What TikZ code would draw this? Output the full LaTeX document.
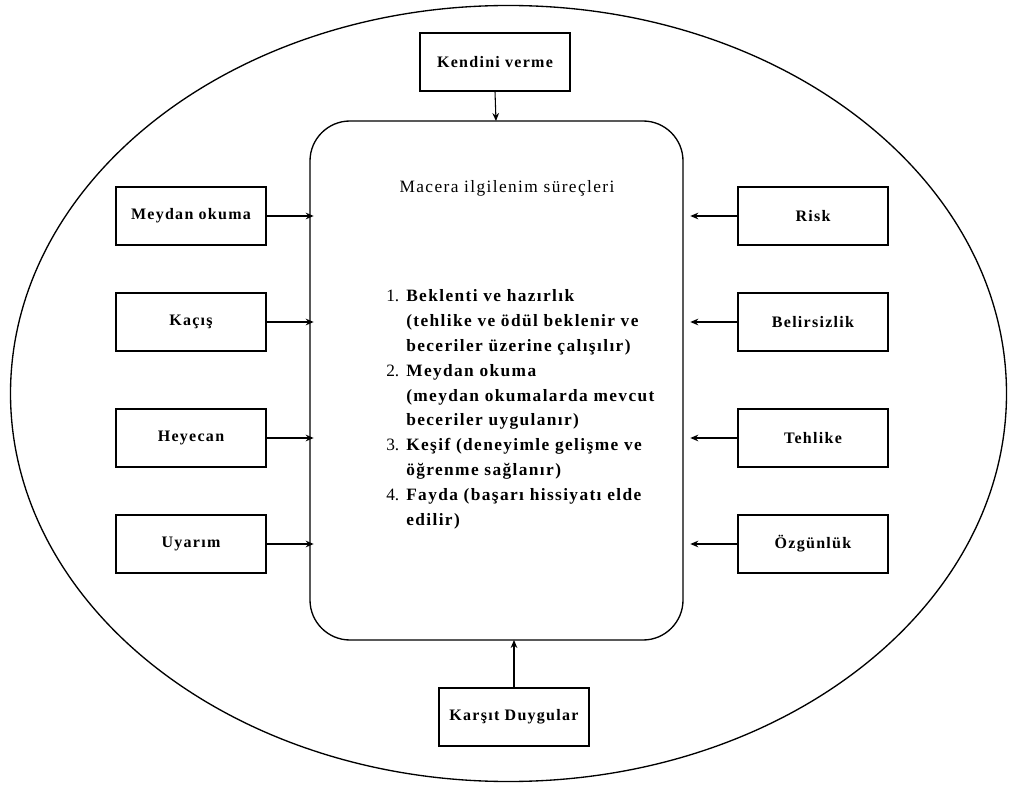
\documentclass[tikz,border=0pt]{standalone}
\usepackage{fontspec}
\setmainfont{Liberation Serif}
\newfontfamily\boxfont[LetterSpace=8]{Liberation Serif}
\usetikzlibrary{arrows.meta}
\begin{document}
\begin{tikzpicture}[x=0.75pt,y=-0.75pt,
  lbl/.style={draw,line width=1pt,minimum width=112.5pt,minimum height=43.5pt,inner sep=0pt,font=\boxfont\fontsize{12}{14}\selectfont\bfseries},
  conn/.style={line width=0.8pt,-{Stealth[length=6pt,width=5pt]}}]
\useasboundingbox (0,0) rectangle (1017,787);
\draw[line width=1pt] (508.5,393.5) ellipse [x radius=498, y radius=388];
\draw[line width=1pt,rounded corners=30pt] (310,121) rectangle (683,640);
\coordinate (ctop) at (496,121);
\coordinate (cbot) at (514,640);
\node[font=\boxfont\fontsize{13}{15}\selectfont] (title) at (507,188) {Macera ilgilenim süreçleri};
\node[anchor=north west,inner sep=0pt,align=left,font=\fontsize{13}{18.7}\selectfont] (list) at (386,289) {%
\makebox[15pt][l]{1.}{\boxfont\bfseries Beklenti ve hazırlık}\\
\hspace*{15pt}{\boxfont\bfseries (tehlike ve ödül beklenir ve}\\
\hspace*{15pt}{\boxfont\bfseries beceriler üzerine çalışılır)}\\
\makebox[15pt][l]{2.}{\boxfont\bfseries Meydan okuma}\\
\hspace*{15pt}{\boxfont\bfseries (meydan okumalarda mevcut}\\
\hspace*{15pt}{\boxfont\bfseries beceriler uygulanır)}\\
\makebox[15pt][l]{3.}{\boxfont\bfseries Keşif (deneyimle gelişme ve}\\
\hspace*{15pt}{\boxfont\bfseries öğrenme sağlanır)}\\
\makebox[15pt][l]{4.}{\boxfont\bfseries Fayda (başarı hissiyatı elde}\\
\hspace*{15pt}{\boxfont\bfseries edilir)}};
\node[lbl] (kv) at (495,62) {Kendini verme};
\node[lbl] (kd) at (514,717) {Karşıt Duygular};
\node[lbl] (l1) at (191,216) {Meydan okuma};
\node[lbl] (l2) at (191,322) {Kaçış};
\node[lbl] (l3) at (191,438) {Heyecan};
\node[lbl] (l4) at (191,544) {Uyarım};
\node[lbl] (r1) at (813,216) {Risk};
\node[lbl] (r2) at (813,322) {Belirsizlik};
\node[lbl] (r3) at (813,438) {Tehlike};
\node[lbl] (r4) at (813,544) {Özgünlük};
\draw[conn] (kv.south) -- (ctop);
\draw[conn] (kd.north) -- (cbot);
\foreach \n in {l1,l2,l3,l4}{\draw[conn] (\n.east) -- ++(47,0);}
\foreach \n in {r1,r2,r3,r4}{\draw[conn] (\n.west) -- ++(-47,0);}
\end{tikzpicture}
\end{document}
